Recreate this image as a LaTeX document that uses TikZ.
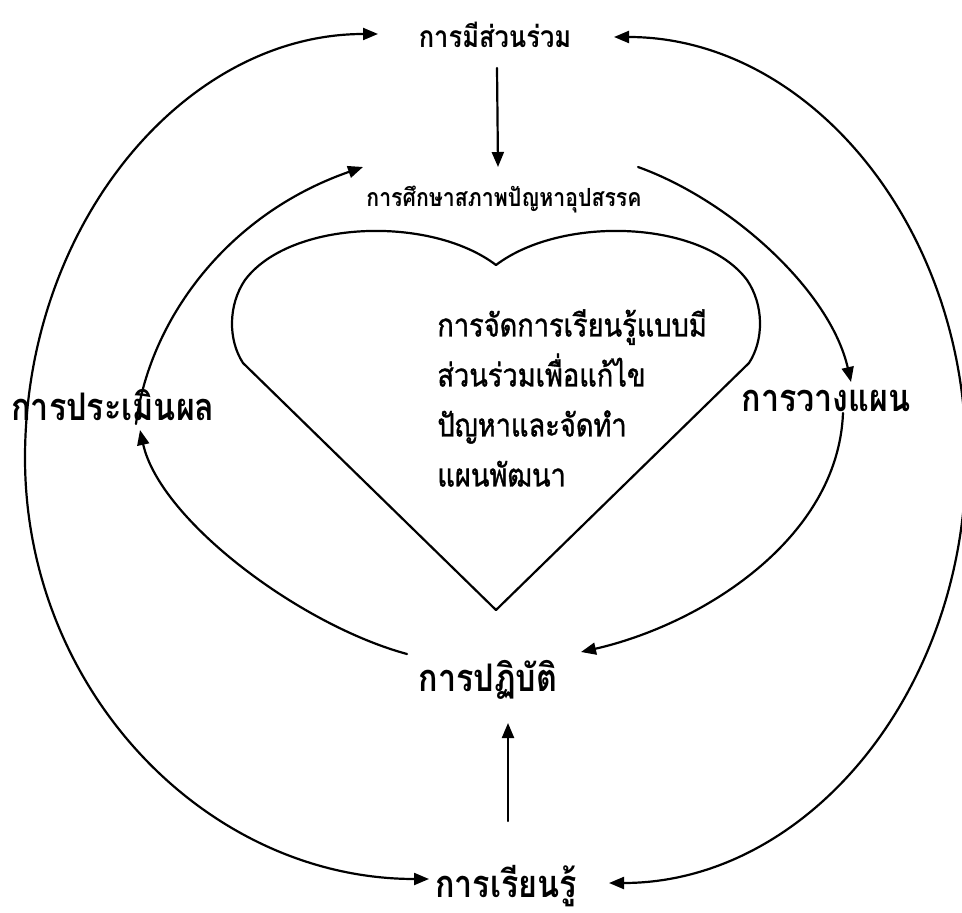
\documentclass[tikz,border=0pt]{standalone}
\usepackage{fontspec}
\usetikzlibrary{arrows.meta,calc}
\newfontfamily\thaifont[Script=Thai,FakeStretch=0.85]{Loma}
\newfontfamily\thaimed[Script=Thai,FakeStretch=0.85,FakeBold=1.2]{Loma}
\tikzset{
  px/.style={x=0.5pt,y=-0.5pt},
  line/.style={line width=1.1pt,line cap=round,line join=round},
  arr/.style={line,-{Triangle[length=7.5pt,width=6pt]}},
  darr/.style={line,{Triangle[length=7.5pt,width=6pt]}-{Triangle[length=7.5pt,width=6pt]}},
  biglbl/.style={inner sep=0pt,font=\thaifont\bfseries\fontsize{19}{22}\selectfont},
  toplbl/.style={inner sep=0pt,font=\thaifont\bfseries\fontsize{15}{18}\selectfont},
  studylbl/.style={inner sep=0pt,font=\thaifont\bfseries\fontsize{12.5}{15}\selectfont},
  corelbl/.style={inner sep=0pt,align=left,font=\thaimed\fontsize{16}{25}\selectfont},
}
\begin{document}
\begin{tikzpicture}[px]
\useasboundingbox (0,0) rectangle (962,913);
\clip (0,0) rectangle (962,913);
\fill[white] (0,0) rectangle (962,913);
% labels
\node[toplbl] (top) at (495,35) {การมีส่วนร่วม};
\node[studylbl] (study) at (504,200) {การศึกษาสภาพปัญหาอุปสรรค};
\node[biglbl] (eval) at (113,405) {การประเมินผล};
\node[biglbl] (plan) at (826,401) {การวางแผน};
\node[biglbl] (act) at (488,680) {การปฏิบัติ};
\node[biglbl] (learn) at (506,886) {การเรียนรู้};
\node[corelbl,anchor=west] (core) at (437,398) {การจัดการเรียนรู้แบบมี\\ส่วนร่วมเพื่อแก้ไข\\ปัญหาและจัดทำ\\แผนพัฒนา};
% heart
\coordinate (hb) at (496,610);
\draw[line] (hb) -- (243,363) .. controls (228,340) and (228,305) .. (245,280)
  .. controls (290,220) and (430,215) .. (496,265)
  .. controls (562,215) and (702,220) .. (747,280)
  .. controls (764,305) and (764,340) .. (749,363) -- cycle;
% straight arrows
\draw[arr] ($(top)+(2,33)$) -- ($(study)+(-6,-33)$);
\draw[arr] ($(learn)+(2,-65)$) -- ($(act)+(20,43)$);
% outer arcs
\coordinate (oL) at (25,458);
\coordinate (oR) at (966,458);
\draw[darr] ($(top)+(-117,-1)$) .. controls +(-194,0) and +(0,-233) .. (oL)
  .. controls +(0,233) and +(-222,0) .. ($(learn)+(-77,-7)$);
\draw[darr] ($(top)+(119,2)$) .. controls +(194,0) and +(0,-233) .. (oR)
  .. controls +(0,235) and +(197,0) .. ($(learn)+(103,-3)$);
% inner arcs
\draw[arr] ($(eval)+(23,19)$) .. controls +(13,-102) and +(-138,48) .. ($(study)+(-141,-33)$);
\draw[arr] ($(study)+(134,-33)$) .. controls +(92,33) and +(-21,-92) .. ($(plan)+(25,-19)$);
\draw[arr] ($(plan)+(17,12)$) .. controls +(-5,127) and +(119,-27) .. ($(act)+(93,-28)$);
\draw[arr] ($(act)+(-81,-26)$) .. controls +(-107,-29) and +(20,90) .. ($(eval)+(27,25)$);
\end{tikzpicture}
\end{document}
